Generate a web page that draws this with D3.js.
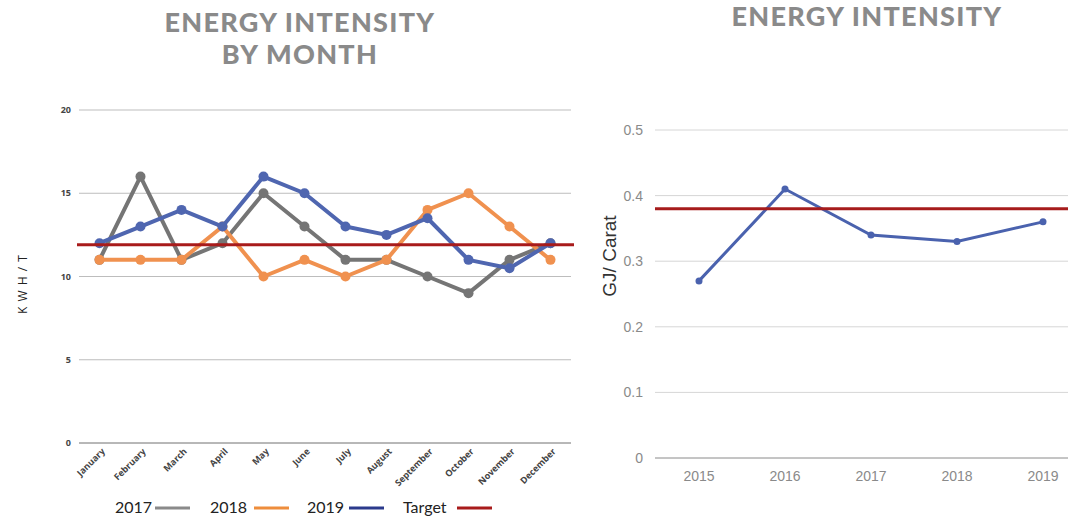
<!DOCTYPE html>
<html>
<head>
<meta charset="utf-8">
<script src="https://cdn.jsdelivr.net/npm/d3@7"></script>
<style>
  body { margin: 0; background: #fff; }
  svg { display: block; }
</style>
</head>
<body>
<svg width="1068" height="520"></svg>
<script>
// data
var months = ["January", "February", "March", "April", "May", "June", "July", "August", "September", "October", "November", "December"];
var y2017 = [11, 16, 11, 12, 15, 13, 11, 11, 10, 9, 11, 12];
var y2018 = [11, 11, 11, 13, 10, 11, 10, 11, 14, 15, 13, 11];
var y2019 = [12, 13, 14, 13, 16, 15, 13, 12.5, 13.5, 11, 10.5, 12];
var monthTarget = 11.9;
var monthTicks = [0, 5, 10, 15, 20];

var years = ["2015", "2016", "2017", "2018", "2019"];
var yearValues = [0.27, 0.41, 0.34, 0.33, 0.36];
var yearTarget = 0.38;
var yearTicks = [0, 0.1, 0.2, 0.3, 0.4, 0.5];

var svg = d3.select("svg");
var titleFont = "Lato, 'Open Sans', sans-serif";

// ---------- left chart ----------
var x = d3.scalePoint().domain(months).range([79, 571]).padding(0.5);
var y = d3.scaleLinear().domain([0, 20]).range([443, 110]);

var left = svg.append("g");

left.selectAll(".grid")
  .data(monthTicks)
  .enter().append("line")
  .attr("x1", 79).attr("x2", 571)
  .attr("y1", function(d) { return y(d); })
  .attr("y2", function(d) { return y(d); })
  .attr("stroke", function(d) { return d === 0 ? "#707070" : "#bdbdbd"; })
  .attr("stroke-width", 1);

left.selectAll(".ytick")
  .data(monthTicks)
  .enter().append("text")
  .attr("x", 71)
  .attr("y", function(d) { return y(d) + 3; })
  .attr("text-anchor", "end")
  .style("font", "bold 9px 'Open Sans', sans-serif")
  .style("fill", "#444")
  .text(function(d) { return d; });

left.selectAll(".xtick")
  .data(months)
  .enter().append("text")
  .attr("transform", function(d) { return "translate(" + (x(d) + 6) + ",452) rotate(-45)"; })
  .attr("text-anchor", "end")
  .style("font", "bold 9px 'Open Sans', sans-serif")
  .style("fill", "#444")
  .text(function(d) { return d; });

left.append("text")
  .attr("transform", "translate(27,284) rotate(-90)")
  .attr("text-anchor", "middle")
  .style("font", "12px 'Open Sans', sans-serif")
  .style("letter-spacing", "1px")
  .style("fill", "#222")
  .text("K W H / T");

var series = [
  { name: "2017", values: y2017, color: "#757575" },
  { name: "2018", values: y2018, color: "#f0914f" },
  { name: "2019", values: y2019, color: "#4f66b0" }
];

var line = d3.line()
  .x(function(d, i) { return x(months[i]); })
  .y(function(d) { return y(d); });

series.forEach(function(s) {
  left.append("path")
    .attr("d", line(s.values))
    .attr("fill", "none")
    .attr("stroke", s.color)
    .attr("stroke-width", 4)
    .attr("stroke-linejoin", "round");
  left.selectAll(".pt" + s.name)
    .data(s.values)
    .enter().append("circle")
    .attr("cx", function(d, i) { return x(months[i]); })
    .attr("cy", function(d) { return y(d); })
    .attr("r", 5)
    .attr("fill", s.color);
});

left.append("line")
  .attr("x1", 77).attr("x2", 574)
  .attr("y1", y(monthTarget)).attr("y2", y(monthTarget))
  .attr("stroke", "#a81b1b")
  .attr("stroke-width", 3);

// titles
function title(txt, cx, cy) {
  svg.append("text").attr("x", cx).attr("y", cy).attr("text-anchor", "middle")
    .style("font", "900 27px " + titleFont)
    .style("letter-spacing", "1.3px")
    .style("fill", "#8a8a8a").text(txt);
}
title("ENERGY INTENSITY", 300, 32);
title("BY MONTH", 300, 64);
title("ENERGY INTENSITY", 867, 26);

// legend
var legend = [
  { label: "2017", tx: 115, lx: 155, color: "#8a8a8a" },
  { label: "2018", tx: 210, lx: 254, color: "#ee8d3c" },
  { label: "2019", tx: 307, lx: 349, color: "#2b3a8c" },
  { label: "Target", tx: 403, lx: 457, color: "#a81b1b" }
];
var lg = svg.append("g");
lg.selectAll("text").data(legend).enter().append("text")
  .attr("x", function(d) { return d.tx; })
  .attr("y", 513)
  .style("font", "16px " + titleFont)
  .style("fill", "#222")
  .text(function(d) { return d.label; });
lg.selectAll("line").data(legend).enter().append("line")
  .attr("x1", function(d) { return d.lx; })
  .attr("x2", function(d) { return d.lx + 35; })
  .attr("y1", 508).attr("y2", 508)
  .attr("stroke", function(d) { return d.color; })
  .attr("stroke-width", 3);

// ---------- right chart ----------
var x2 = d3.scalePoint().domain(years).range([656, 1086]).padding(0.5);
var y2 = d3.scaleLinear().domain([0, 0.5]).range([458, 130]);

var right = svg.append("g");

right.selectAll(".grid")
  .data(yearTicks)
  .enter().append("line")
  .attr("x1", 655).attr("x2", 1068)
  .attr("y1", function(d) { return y2(d); })
  .attr("y2", function(d) { return y2(d); })
  .attr("stroke", function(d) { return d === 0 ? "#8a8a8a" : "#d6d6d6"; })
  .attr("stroke-width", 1);

right.selectAll(".ytick")
  .data(yearTicks)
  .enter().append("text")
  .attr("x", 643)
  .attr("y", function(d) { return y2(d) + 5; })
  .attr("text-anchor", "end")
  .style("font", "14px 'Liberation Sans', Arial, sans-serif")
  .style("fill", "#8a8a8a")
  .text(function(d) { return d === 0 ? "0" : d3.format(".1f")(d); });

right.selectAll(".xtick")
  .data(years)
  .enter().append("text")
  .attr("x", function(d) { return x2(d); })
  .attr("y", 481)
  .attr("text-anchor", "middle")
  .style("font", "14px 'Liberation Sans', Arial, sans-serif")
  .style("fill", "#8a8a8a")
  .text(function(d) { return d; });

right.append("text")
  .attr("transform", "translate(616,256) rotate(-90)")
  .attr("text-anchor", "middle")
  .style("font", "19px 'Liberation Sans', Arial, sans-serif")
  .style("fill", "#333")
  .text("GJ/ Carat");

var line2 = d3.line()
  .x(function(d, i) { return x2(years[i]); })
  .y(function(d) { return y2(d); });

right.append("path")
  .attr("d", line2(yearValues))
  .attr("fill", "none")
  .attr("stroke", "#4a62ae")
  .attr("stroke-width", 3);

right.selectAll(".pt")
  .data(yearValues)
  .enter().append("circle")
  .attr("cx", function(d, i) { return x2(years[i]); })
  .attr("cy", function(d) { return y2(d); })
  .attr("r", 3.5)
  .attr("fill", "#4a62ae");

right.append("line")
  .attr("x1", 655).attr("x2", 1068)
  .attr("y1", y2(yearTarget)).attr("y2", y2(yearTarget))
  .attr("stroke", "#a61c1c")
  .attr("stroke-width", 3);
</script>
</body>
</html>
